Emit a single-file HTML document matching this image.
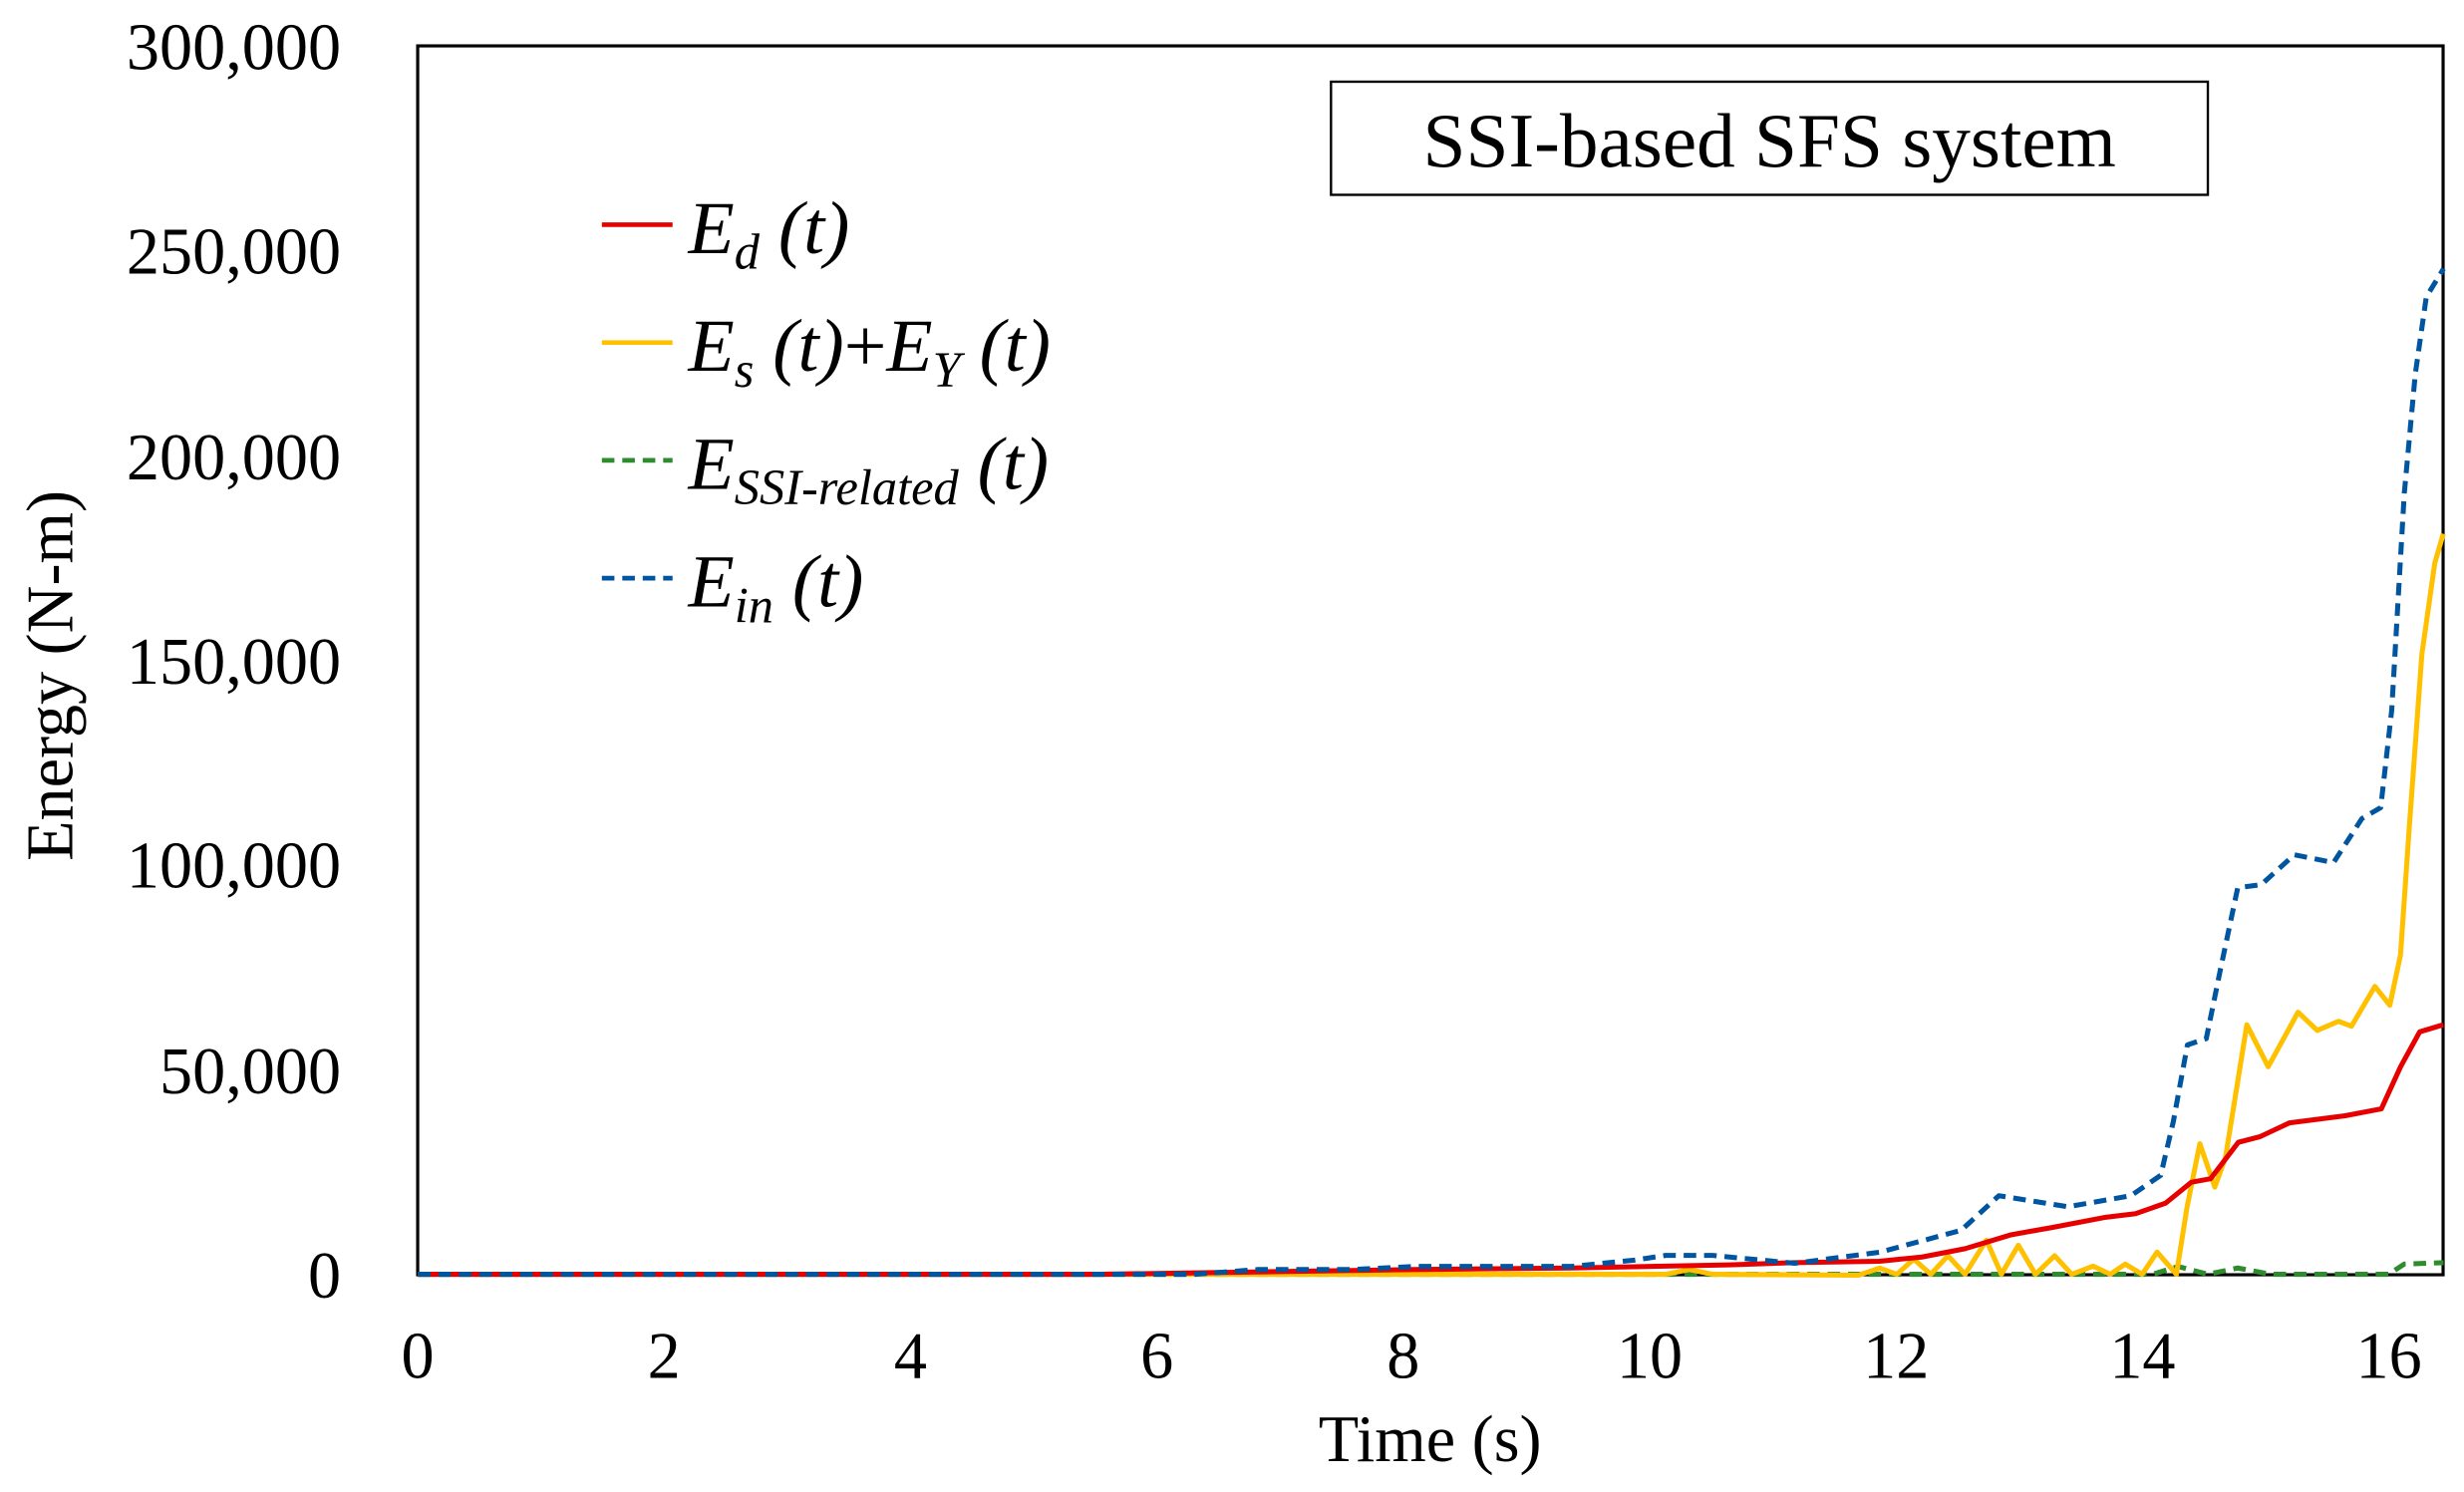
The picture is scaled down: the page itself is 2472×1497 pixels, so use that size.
<!DOCTYPE html>
<html><head><meta charset="utf-8"><style>html,body{margin:0;padding:0;background:#fff}svg{display:block}text{font-family:"Liberation Serif","Times New Roman",serif}</style></head>
<body>
<svg width="2472" height="1497" viewBox="0 0 1568 949.56" preserveAspectRatio="none" xmlns="http://www.w3.org/2000/svg">
<rect x="265.8" y="29.2" width="1288.9" height="782.1" fill="none" stroke="#000" stroke-width="2"/>
<g font-size="42" text-anchor="end">
<text x="217" y="44">300,000</text>
<text x="217" y="174">250,000</text>
<text x="217" y="305">200,000</text>
<text x="217" y="435">150,000</text>
<text x="217" y="565">100,000</text>
<text x="217" y="696">50,000</text>
<text x="217" y="826">0</text>
</g>
<g font-size="42" text-anchor="middle">
<text x="265.8" y="877">0</text>
<text x="422.6" y="877">2</text>
<text x="579.4" y="877">4</text>
<text x="736.2" y="877">6</text>
<text x="893" y="877">8</text>
<text x="1049.8" y="877">10</text>
<text x="1206.6" y="877">12</text>
<text x="1363.4" y="877">14</text>
<text x="1520.2" y="877">16</text>
</g>
<g font-size="42" text-anchor="middle">
<text x="910" y="930">Time (s)</text>
<text transform="translate(46,430) rotate(-90)">Energy (N-m)</text>
</g>
<rect x="847" y="52" width="558" height="72" fill="#fff" stroke="#000" stroke-width="1.5"/>
<text x="1126" y="106" font-size="49" text-anchor="middle">SSI-based SFS system</text>
<g stroke-width="3" fill="none">
<line x1="383" y1="143" x2="428" y2="143" stroke="#e60000"/>
<line x1="383" y1="218" x2="428" y2="218" stroke="#ffc000"/>
<line x1="383" y1="293" x2="428" y2="293" stroke="#2e8b2e" stroke-dasharray="8,5"/>
<line x1="383" y1="368" x2="428" y2="368" stroke="#0055a0" stroke-dasharray="8,5"/>
</g>
<g font-size="48" font-style="italic">
<text x="438" y="161">E<tspan font-size="32" dy="10">d</tspan><tspan dy="-10"> (t)</tspan></text>
<text x="438" y="236">E<tspan font-size="32" dy="10">s</tspan><tspan dy="-10"> (t)</tspan><tspan font-style="normal">+</tspan>E<tspan font-size="32" dy="10">Y</tspan><tspan dy="-10"> (t)</tspan></text>
<text x="438" y="311">E<tspan font-size="32" dy="10">SSI-related</tspan><tspan dy="-10"> (t)</tspan></text>
<text x="438" y="386">E<tspan font-size="32" dy="10">in</tspan><tspan dy="-10"> (t)</tspan></text>
</g>
<g fill="none" stroke-width="3.2" stroke-linejoin="round">
<polyline stroke="#2e8b2e" stroke-dasharray="8,5" points="266,811 1370,811 1386,806 1405,811 1424,807 1445,811 1520,811 1530,804.5 1555,803.6"/>
<polyline stroke="#ffc000" points="266,811 1060,811 1075,808 1090,811 1182.6,811.6 1196.1,807.1 1207,811 1217.9,801.4 1228.7,811 1239.6,799.2 1250.5,811 1264.1,789.3 1273.6,811 1284.4,792.5 1295.3,811 1307.5,799.2 1318.4,811 1332,805.8 1342.9,811 1352.4,804.5 1363.2,811 1372.7,796.9 1385,811 1391.8,768 1399.9,727.9 1409.4,755.5 1416.2,736.8 1429.8,652.2 1443.4,678.9 1462.4,644.2 1474.6,655.8 1488.2,650 1496.4,653.1 1511.3,627.8 1520.8,639.8 1527.6,607.7 1533.1,527.6 1541.2,416.3 1549.4,358.4 1554.8,339.7"/>
<polyline stroke="#e60000" points="266,811 700,811 900,808 1000,807 1100,805 1141.8,803.6 1196,802.7 1223,800 1250.5,794.7 1280,785.8 1305,781.4 1340,774.7 1359,772.4 1378,765.8 1394.5,752.4 1406.7,750.2 1424.4,727 1438,723.5 1457,714.6 1492.3,710.1 1515.4,705.7 1527.6,679 1539.8,656.7 1554.8,652.2"/>
<polyline stroke="#0055a0" stroke-dasharray="8,5" points="266,811 760,811 800,808 860,808 900,806 1000,806 1040,802 1060,799 1090,799 1142,804 1196,797 1248,783 1272,761 1316,768 1356,761 1375,748 1383,714 1392,665 1404,661 1413,617 1424,565 1439,563 1460,544 1485,549 1503,521 1515,514 1522,452 1530,314 1537,238 1544,189 1555,171"/>
</g>
</svg>
</body></html>
